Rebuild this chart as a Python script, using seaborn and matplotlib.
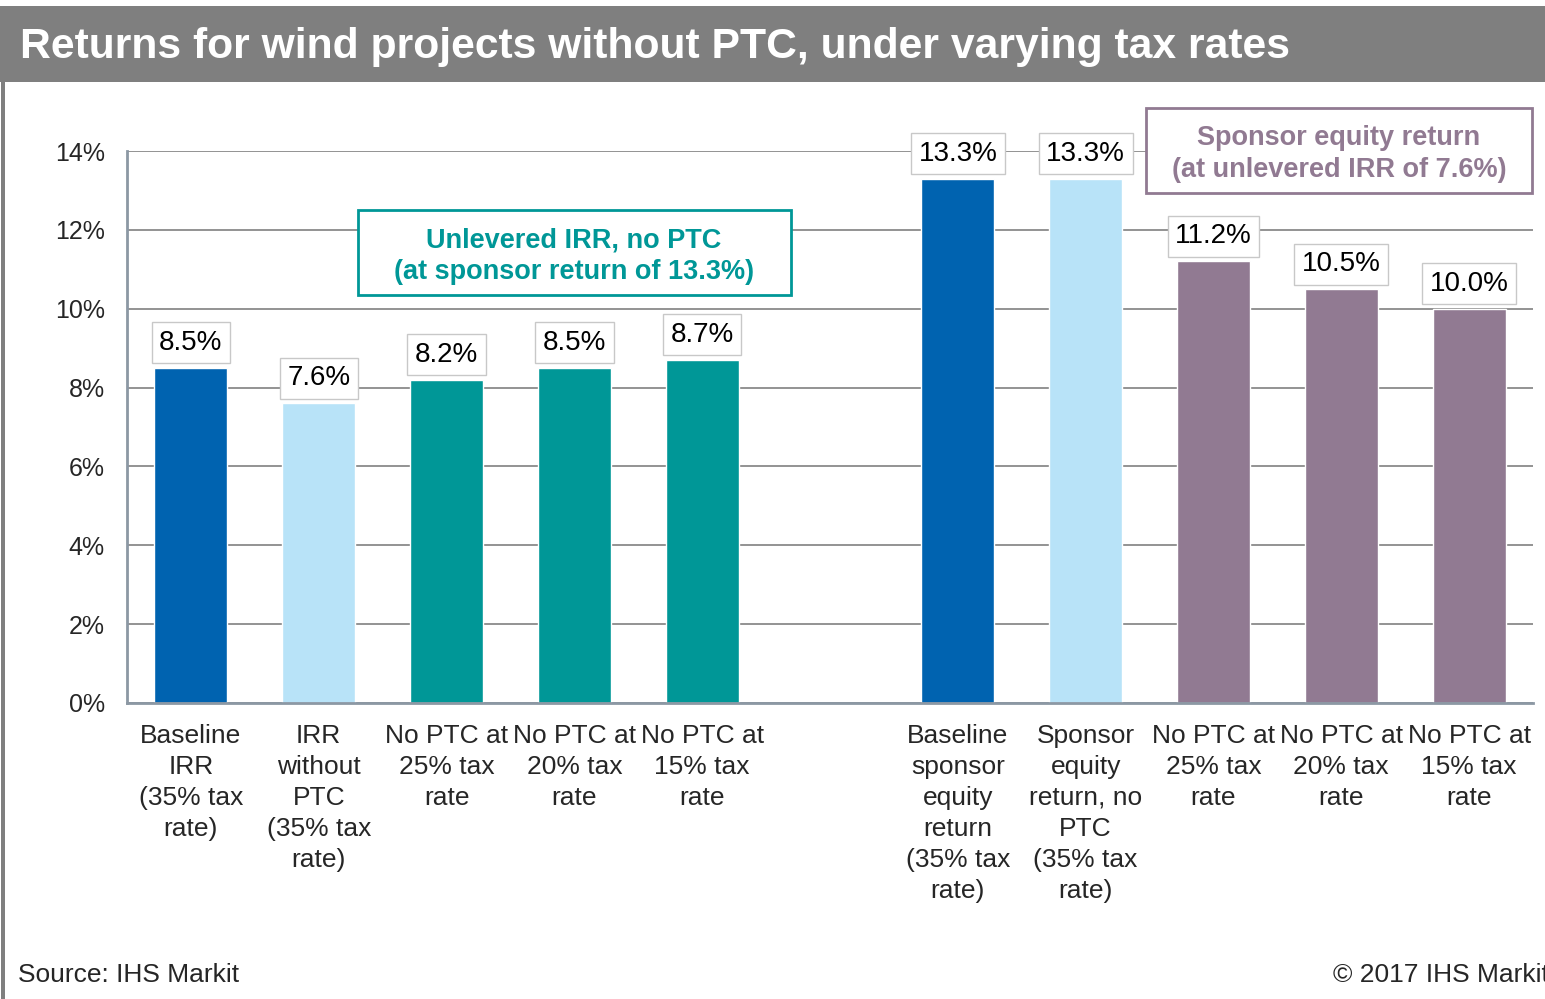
import matplotlib.pyplot as plt
import matplotlib.patches as mpatches
import seaborn as sns
import numpy as np
import pandas as pd

# data
keys = ["base_irr", "irr_noptc", "irr_25", "irr_20", "irr_15", "gap",
        "base_eq", "eq_noptc", "eq_25", "eq_20", "eq_15"]
labels = ["Baseline\nIRR\n(35% tax\nrate)",
          "IRR\nwithout\nPTC\n(35% tax\nrate)",
          "No PTC at\n25% tax\nrate",
          "No PTC at\n20% tax\nrate",
          "No PTC at\n15% tax\nrate",
          "",
          "Baseline\nsponsor\nequity\nreturn\n(35% tax\nrate)",
          "Sponsor\nequity\nreturn, no\nPTC\n(35% tax\nrate)",
          "No PTC at\n25% tax\nrate",
          "No PTC at\n20% tax\nrate",
          "No PTC at\n15% tax\nrate"]
values = [8.5, 7.6, 8.2, 8.5, 8.7, np.nan, 13.3, 13.3, 11.2, 10.5, 10.0]
groups = ["baseline", "noptc35", "irr", "irr", "irr", "irr",
          "baseline", "noptc35", "equity", "equity", "equity"]

palette = {"baseline": "#0063B0", "noptc35": "#B8E3F8",
           "irr": "#009797", "equity": "#917A92"}

df = pd.DataFrame({"key": keys, "value": values, "group": groups})

sns.set_style("white")
plt.rcParams['font.family'] = ['Liberation Sans', 'DejaVu Sans']

fig = plt.figure(figsize=(15.45, 9.99), dpi=100)
ax = fig.add_axes([127/1545, 1 - 703/999, (1533 - 127)/1545, (703 - 151)/999])

sns.barplot(data=df, x="key", y="value", hue="group", palette=palette,
            order=keys, dodge=False, width=0.57, legend=False, ax=ax,
            saturation=1, errorbar=None)

ax.set_xlim(-0.5, len(keys) - 0.5)
ax.set_ylim(0, 14)
ax.set_yticks(np.arange(0, 15, 2))
ax.set_yticklabels([f"{v}%" for v in range(0, 15, 2)], fontsize=18)
ax.set_xticks(range(len(keys)))
ax.set_xticklabels(labels, fontsize=19, linespacing=1.37, va="top")
ax.set_xticks(np.arange(-0.5, len(keys), 1), minor=True)
ax.tick_params(axis="x", which="major", length=0, pad=15)
ax.tick_params(axis="x", which="minor", length=8, width=2, color="#8C98A4", direction="out")
ax.tick_params(axis="y", length=7, width=2, color="#8C98A4", direction="out", pad=9)
ax.set_xlabel("")
ax.set_ylabel("")

ax.yaxis.grid(True, color="#8A8A8A", linewidth=1.3)
ax.set_axisbelow(True)
for s in ["top", "right"]:
    ax.spines[s].set_visible(False)
for s in ["left", "bottom"]:
    ax.spines[s].set_color("#8C98A4")
    ax.spines[s].set_linewidth(2)

# value labels in boxes
for i, v in enumerate(values):
    if np.isnan(v):
        continue
    ax.annotate(f"{v:.1f}%", xy=(i, v), xytext=(0, 25), textcoords="offset pixels",
                ha="center", va="center", fontsize=20, color="black", zorder=5,
                bbox=dict(boxstyle="square,pad=0.27", fc="white", ec="#C8C8C8", lw=1))

# annotation boxes
fig.patches.append(mpatches.Rectangle((358/1545, 1 - 295/999), 433/1545, 85/999,
                                      transform=fig.transFigure, fc="white",
                                      ec="#009797", lw=2, zorder=3))
fig.text(574/1545, 1 - 256/999, "Unlevered IRR, no PTC\n(at sponsor return of 13.3%)",
         ha="center", va="center", fontsize=19.5, fontweight="bold", color="#009797",
         linespacing=1.3, zorder=4)
fig.patches.append(mpatches.Rectangle((1146/1545, 1 - 193/999), 386/1545, 85/999,
                                      transform=fig.transFigure, fc="white",
                                      ec="#917A92", lw=2, zorder=3))
fig.text(1339/1545, 1 - 154/999, "Sponsor equity return\n(at unlevered IRR of 7.6%)",
         ha="center", va="center", fontsize=19.5, fontweight="bold", color="#917A92",
         linespacing=1.3, zorder=4)

# title bar and frame
fig.patches.append(mpatches.Rectangle((0, 1 - 82/999), 1, 76/999, transform=fig.transFigure,
                                      fc="#7F7F7F", ec="none", zorder=0))
fig.patches.append(mpatches.Rectangle((1/1545, 0), 4/1545, 1 - 82/999, transform=fig.transFigure,
                                      fc="#7F7F7F", ec="none", zorder=0))
fig.text(20/1545, 1 - 47/999, "Returns for wind projects without PTC, under varying tax rates",
         ha="left", va="center", fontsize=30.7, fontweight="bold", color="white")

fig.text(18/1545, 1 - 975/999, "Source: IHS Markit", ha="left", va="center", fontsize=19)
fig.text(1333/1545, 1 - 975/999, "\u00a9 2017 IHS Markit", ha="left", va="center", fontsize=19)

fig.savefig("out.png", dpi=100)
